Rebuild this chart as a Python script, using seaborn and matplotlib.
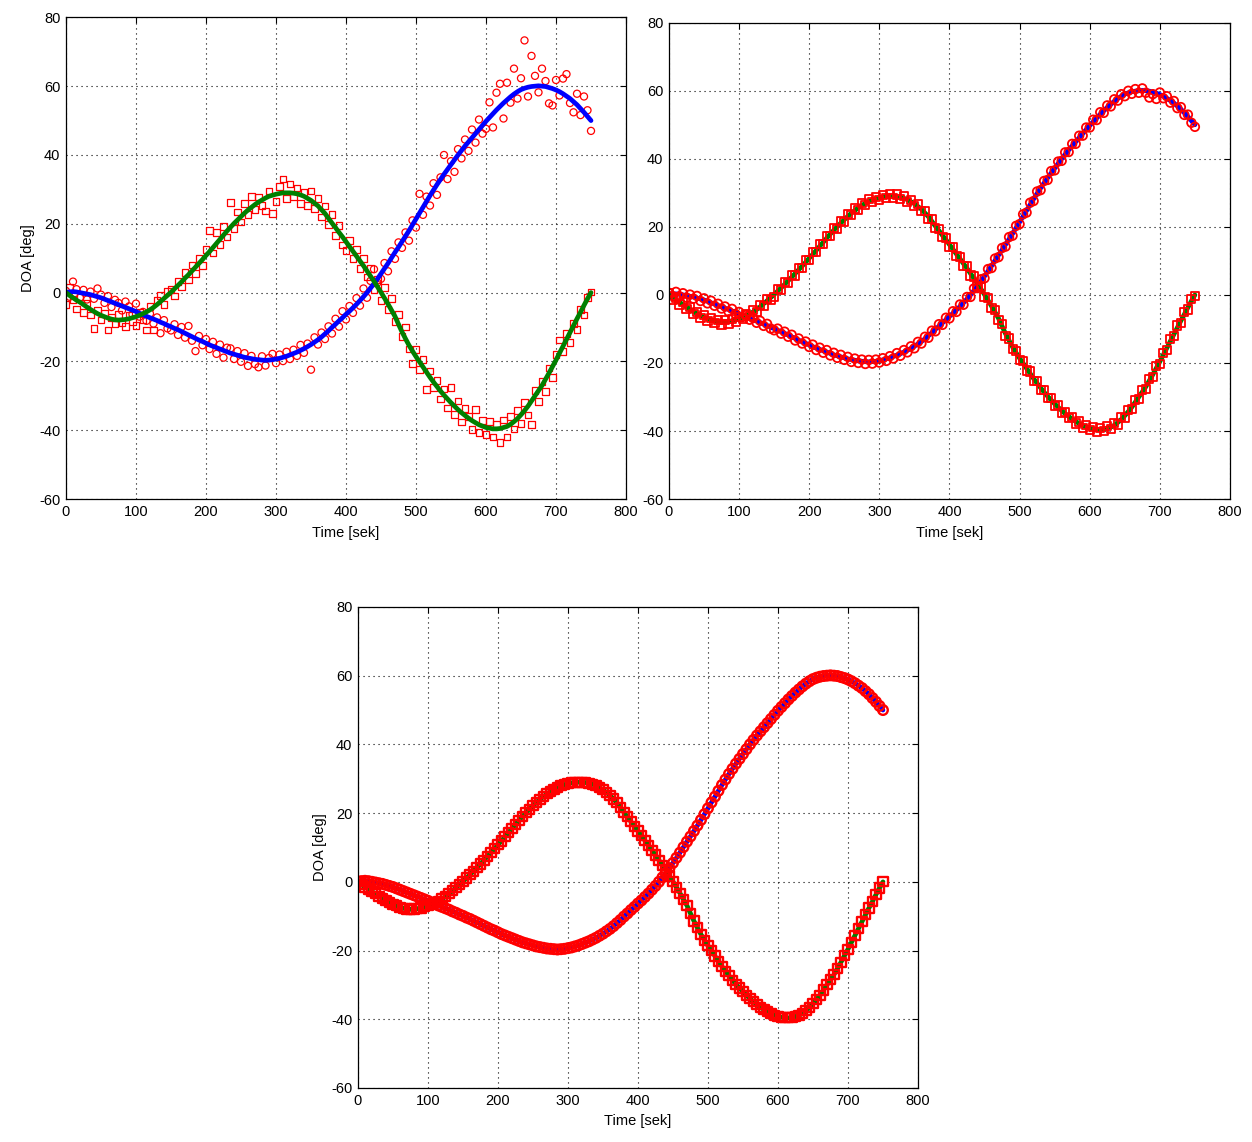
import numpy as np
import pandas as pd
import matplotlib
matplotlib.use("Agg")
import matplotlib.pyplot as plt
import seaborn as sns

# ---------------- data ----------------
time_s = list(range(0, 751, 5))

# true trajectory of target 1 (blue) and target 2 (green)
truth_1 = [0, 0.2, 0.3, 0.2, 0, -0.2, -0.4, -0.6, -0.9, -1.2, -1.5, -1.9, -2.3, -2.7, -3.1, -3.5, -3.9, -4.3, -4.7, -5.1,
           -5.5, -6, -6.4, -6.9, -7.3, -7.7, -8.1, -8.6, -9, -9.5,
           -9.9, -10.4, -10.8, -11.3, -11.8, -12.3, -12.8, -13.3, -13.8, -14.2, -14.7, -15.2, -15.6, -16, -16.4, -16.8,
           -17.2, -17.6, -17.9, -18.2, -18.5, -18.8, -19, -19.2, -19.4, -19.5, -19.6, -19.7, -19.6, -19.5,
           -19.3, -19.1, -18.8, -18.5, -18.1, -17.7, -17.3, -16.8, -16.3, -15.7, -15.1, -14.4, -13.7, -12.9, -12, -11.1,
           -10.1, -9.2, -8.2, -7.3, -6.3, -5.4, -4.4, -3.4, -2.3, -1.2, 0, 1.3, 2.6, 4,
           5.5, 7, 8.5, 10.1, 11.7, 13.2, 14.8, 16.4, 18, 19.7, 21.4, 23.1, 24.8, 26.5, 28.2, 29.8, 31.4, 32.9, 34.4, 35.8,
           37.2, 38.6, 40, 41.3, 42.6, 43.8, 45, 46.2, 47.4, 48.6,
           49.8, 50.9, 52, 53.1, 54.1, 55.1, 56, 56.9, 57.7, 58.4, 59, 59.4, 59.7, 59.9, 60, 60.1, 60, 59.9, 59.6, 59.3,
           58.9, 58.4, 57.8, 57.1, 56.4, 55.5, 54.6, 53.5, 52.4, 51.2, 50]
truth_2 = [0, -0.8, -1.5, -2.2, -2.8, -3.5, -4.2, -4.9, -5.5, -6.1, -6.6, -7, -7.4, -7.7, -7.9, -8, -7.9, -7.8, -7.6, -7.3,
           -7, -6.6, -6.1, -5.6, -5, -4.3, -3.5, -2.6, -1.7, -0.8,
           0.1, 1.1, 2.1, 3.1, 4.2, 5.2, 6.3, 7.4, 8.5, 9.6, 10.8, 11.9, 13.1, 14.3, 15.5, 16.7, 17.9, 19, 20.1, 21.1,
           22.1, 23.1, 24, 24.8, 25.6, 26.3, 26.9, 27.5, 28, 28.3,
           28.6, 28.8, 29, 29, 29, 28.9, 28.7, 28.4, 28, 27.4, 26.8, 26, 25.2, 24.1, 23, 21.6, 20.2, 18.9, 17.5, 16.2,
           14.8, 13.4, 12, 10.6, 9.2, 7.8, 6.3, 4.8, 3.3, 1.7,
           0.1, -1.6, -3.3, -5.1, -6.9, -9.2, -11.4, -13.4, -15.3, -17, -18.6, -20.1, -21.6, -23.1, -24.6, -26, -27.3,
           -28.6, -29.8, -30.9, -32, -33, -34, -34.9, -35.7, -36.5, -37.2, -37.8, -38.4, -38.8,
           -39.2, -39.4, -39.6, -39.6, -39.5, -39.2, -38.9, -38.3, -37.5, -36.6, -35.5, -34.3, -33, -31.5, -30, -28.5,
           -27, -25.2, -23.4, -21.5, -19.6, -17.6, -15.6, -13.6, -11.6, -9.6, -7.6, -5.7, -3.7, -1.8, 0]

# panel 1 measurements (large noise)
meas1_1 = [0.5, -1.2, 3.2, 1.0, -1.5, 0.8, -2.0, 0.3, -1.8, 1.2, -0.6, -3.0, -1.0, -4.2, -2.1, -3.0, -5.2, -2.6, -4.0, -6.3,
           -3.2, -7.0, -5.6, -8.2, -6.1, -9.0, -7.2, -11.8, -8.0, -10.4,
           -11.0, -9.2, -12.3, -10.0, -13.1, -9.7, -14.0, -17.0, -12.6, -15.3, -13.5, -16.4, -14.3, -17.8, -15.1, -18.9,
           -16.0, -16.2, -19.3, -17.0, -20.1, -17.6, -21.3, -18.4, -20.8, -21.7, -18.5, -21.2, -19.0, -17.8,
           -20.5, -18.0, -19.9, -17.2, -19.3, -16.6, -18.4, -15.2, -17.5, -14.8, -22.4, -13.0, -15.1, -11.6, -13.5, -9.8,
           -11.9, -7.6, -9.9, -5.4, -7.8, -3.9, -5.9, -1.6, -3.8, 1.2, -1.5, 3.4, 6.8, 2.9,
           4.0, 8.6, 6.2, 12.0, 9.8, 14.6, 13.0, 17.5, 15.1, 21.0, 18.9, 28.7, 22.6, 27.9, 25.3, 31.8, 28.4, 33.5, 40.0,
           33.0, 38.2, 35.1, 41.7, 39.0, 44.5, 41.2, 47.4, 43.6, 50.3, 46.2,
           47.6, 55.3, 48.0, 58.1, 60.7, 50.6, 61.0, 55.2, 65.1, 56.4, 62.3, 73.3, 57.0, 68.8, 63.0, 58.2, 65.1, 61.5,
           55.0, 54.4, 61.8, 57.3, 62.2, 63.5, 55.1, 52.4, 57.8, 51.6, 57.0, 53.0, 47.0]
meas1_2 = [-3.5, 1.6, -2.0, -4.8, -1.2, -5.8, -3.0, -6.5, -10.4, -5.2, -8.0, -6.0, -10.9, -7.2, -9.1, -6.4, -8.8, -9.8,
           -6.5, -8.3, -9.6, -5.8, -8.0, -10.9, -4.0, -10.9, -2.3, -0.8, -3.4, 0.4,
           0.9, -1.0, 3.3, 1.8, 5.9, 3.7, 8.0, 5.6, 9.9, 7.8, 12.6, 18.0, 11.5, 17.4, 14.0, 19.3, 16.2, 26.1, 18.7, 23.4,
           20.5, 25.8, 22.6, 28.0, 24.1, 27.8, 25.3, 23.7, 29.5, 23.0,
           26.5, 30.8, 33.0, 27.4, 31.6, 27.8, 30.4, 26.0, 29.2, 25.3, 29.5, 24.5, 27.3, 22.0, 25.2, 19.8, 22.7, 16.5,
           19.6, 13.8, 12.2, 15.2, 10.0, 12.6, 7.1, 9.9, 4.5, 7.0, 1.0, 3.8,
           -2.2, 1.4, -5.0, -1.8, -8.4, -6.3, -12.7, -10.0, -16.4, -20.5, -16.6, -22.4, -19.5, -28.2, -22.8, -27.6, -25.5,
           -30.9, -28.0, -33.5, -27.6, -35.4, -31.5, -37.6, -33.6, -36.0, -39.8, -34.0, -40.6, -37.2,
           -41.2, -37.4, -42.0, -38.2, -43.5, -37.0, -42.0, -36.0, -39.6, -34.2, -38.0, -32.0, -35.6, -38.3, -28.4, -31.6,
           -25.8, -28.8, -21.9, -24.7, -18.0, -13.8, -17.2, -11.8, -14.5, -8.9, -10.8, -4.9, -6.5, -1.5, 0.2]

# panel 2 measurements (small noise)
meas2_1 = [0.6, -0.3, 0.9, -0.4, 0.5, -0.8, 0.1, -1.1, -0.3, -1.8, -1.0, -2.5, -1.7, -3.2, -2.6, -4.0, -3.4, -4.9, -4.1,
           -5.6, -5.0, -6.5, -5.9, -7.3, -6.8, -8.2, -7.6, -9.1, -8.5, -9.9,
           -10.4, -9.9, -11.4, -10.8, -12.3, -11.7, -13.4, -12.8, -14.3, -13.7, -15.3, -14.6, -16.2, -15.5, -17.0, -16.2,
           -17.8, -17.0, -18.5, -17.6, -19.1, -18.2, -19.7, -18.7, -20.0, -19.0, -20.3, -19.1, -20.2, -19.0,
           -19.9, -18.6, -19.4, -18.0, -18.7, -17.1, -17.9, -16.2, -16.9, -15.1, -15.7, -13.8, -14.3, -12.3, -12.6, -10.5,
           -10.7, -8.6, -8.8, -6.7, -6.9, -4.8, -5.0, -2.8, -2.9, -0.6, -0.6, 1.9, 2.0, 4.6,
           4.9, 7.6, 7.9, 10.7, 11.1, 13.8, 14.2, 17.0, 17.4, 20.3, 20.8, 23.7, 24.2, 27.1, 27.6, 30.4, 30.8, 33.5, 33.8,
           36.4, 36.6, 39.2, 39.4, 41.9, 42.0, 44.4, 44.4, 46.8, 46.8, 49.2,
           49.2, 51.5, 51.4, 53.7, 53.5, 55.7, 55.4, 57.5, 57.1, 59.0, 58.4, 60.0, 59.1, 60.5, 59.4, 60.7, 59.4, 58.0,
           59.0, 57.6, 59.5, 57.8, 58.4, 56.5, 57.0, 54.9, 55.2, 52.9, 53.0, 50.6, 49.4]
meas2_2 = [0.5, -1.4, -0.9, -2.8, -2.2, -4.1, -3.6, -5.5, -4.9, -6.7, -6.0, -7.6, -6.8, -8.3, -7.3, -8.7, -7.3, -8.5,
           -7.0, -8.0, -6.4, -7.2, -5.5, -6.2, -4.4, -4.9, -2.9, -3.2, -1.1, -1.4,
           -0.5, 1.7, 1.5, 3.7, 3.6, 5.8, 5.7, 8.0, 7.9, 10.2, 10.2, 12.5, 12.5, 14.9, 14.9, 17.3, 17.3, 19.6, 19.5, 21.7,
           21.5, 23.7, 23.4, 25.4, 25.0, 26.9, 26.3, 28.1, 27.4, 28.9,
           28.0, 29.4, 28.4, 29.6, 28.4, 29.5, 28.1, 29.0, 27.4, 28.0, 26.2, 26.6, 24.6, 24.7, 22.4, 22.2, 19.6, 19.5,
           16.9, 16.8, 14.2, 14.0, 11.4, 11.2, 8.6, 8.4, 5.7, 5.4, 2.7, 2.3,
           -0.5, -1.0, -3.9, -4.5, -7.5, -8.6, -12.0, -12.8, -15.9, -16.4, -19.2, -19.5, -22.2, -22.5, -25.2, -25.4,
           -27.9, -28.0, -30.4, -30.3, -32.6, -32.4, -34.6, -34.3, -36.3, -35.9, -37.8, -37.2, -39.0, -38.2,
           -39.8, -38.8, -40.2, -39.0, -40.1, -38.6, -39.5, -37.7, -38.1, -36.0, -36.1, -33.7, -33.6, -30.9, -30.6,
           -27.9, -27.6, -24.6, -24.0, -20.9, -20.2, -17.0, -16.2, -13.0, -12.2, -9.0, -8.2, -5.1, -4.3, -1.2, -0.4]

# panel 3: measurements lie on the true tracks
meas3_1 = truth_1
meas3_2 = truth_2

x_ticks = [0, 100, 200, 300, 400, 500, 600, 700, 800]
y_ticks = [-60, -40, -20, 0, 20, 40, 60, 80]

# ---------------- style ----------------
sns.set_theme(style="white")
plt.rcParams["font.family"] = ["Liberation Sans", "DejaVu Sans"]
plt.rcParams["font.size"] = 10.5
plt.rcParams["axes.unicode_minus"] = False

fig = plt.figure(figsize=(12.52, 11.42), dpi=100)
positions = [
    [0.0527, 0.5630, 0.4473, 0.4218],
    [0.5343, 0.5630, 0.4481, 0.4171],
    [0.2859, 0.0473, 0.4473, 0.4212],
]
# (measurements 1, measurements 2, truth on top, marker area, marker edge width)
panels = [(meas1_1, meas1_2, True, 26, 0.9),
          (meas2_1, meas2_2, False, 38, 1.3),
          (meas3_1, meas3_2, False, 48, 1.7)]
ylabels = ["DOA [deg]", "", "DOA [deg]"]

RED = "#ff0000"
BLUE = "#0000ff"
GREEN = "#008000"

for pos, (m1, m2, truth_on_top, msize, mlw), ylab in zip(positions, panels, ylabels):
    ax = fig.add_axes(pos)
    df = pd.DataFrame({"t": time_s, "truth1": truth_1, "truth2": truth_2, "m1": m1, "m2": m2})
    zt = 4 if truth_on_top else 1
    sns.lineplot(data=df, x="t", y="truth1", ax=ax, color=BLUE, lw=3.4, zorder=zt, errorbar=None)
    sns.lineplot(data=df, x="t", y="truth2", ax=ax, color=GREEN, lw=3.4, zorder=zt, errorbar=None)
    sns.scatterplot(data=df, x="t", y="m1", ax=ax, marker="o", s=msize, facecolor="none",
                    edgecolor=RED, linewidth=mlw, zorder=3)
    sns.scatterplot(data=df, x="t", y="m2", ax=ax, marker="s", s=msize * 0.9, facecolor="none",
                    edgecolor=RED, linewidth=mlw, zorder=3)
    ax.set_xlim(0, 800)
    ax.set_ylim(-60, 80)
    ax.set_xticks(x_ticks)
    ax.set_yticks(y_ticks)
    ax.grid(True, color="black", linestyle=(0, (1, 3.5)), linewidth=0.8)
    ax.tick_params(direction="in", top=True, right=True, length=4, width=0.8,
                   labelsize=10.5, colors="black", pad=4)
    for sp in ax.spines.values():
        sp.set_color("black")
        sp.set_linewidth(0.9)
        sp.set_zorder(10)
    ax.set_xlabel("Time [sek]", fontsize=10.5, color="black", labelpad=5)
    ax.set_ylabel(ylab, fontsize=10.5, color="black", labelpad=3)

fig.savefig("out.png", dpi=100)
